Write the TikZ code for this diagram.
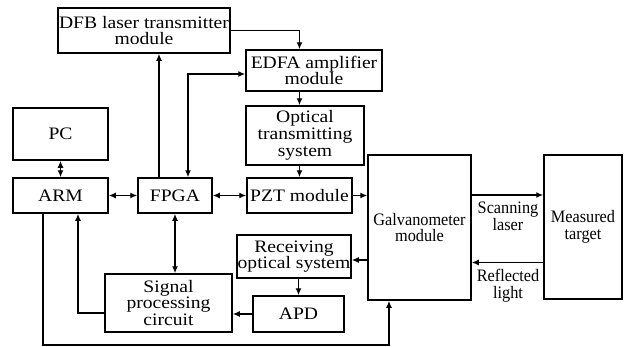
\documentclass[tikz,border=0pt]{standalone}
\usepackage{fontspec}
\setmainfont{Liberation Serif}[FakeStretch=1.12]
\newfontfamily\condfont{Liberation Serif}[FakeStretch=0.93]
\usetikzlibrary{arrows.meta}
\begin{document}
\begin{tikzpicture}[x=1pt,y=-1pt,
  box/.style={draw,line width=1.5pt,inner sep=0pt,align=center,
    font=\fontsize{17.5}{16.7}\selectfont},
  cbox/.style={box,font=\condfont\fontsize{17.5}{16.7}\selectfont},
  lbl/.style={align=center,inner sep=0pt,font=\condfont\fontsize{17.5}{16.7}\selectfont},
  arr/.style={line width=1.4pt,-{Latex[length=7pt,width=6pt]}},
  dbl/.style={line width=1.4pt,{Latex[length=7pt,width=6pt]}-{Latex[length=7pt,width=6pt]}}]
\useasboundingbox (0,0) rectangle (626,346);
\node[box,minimum width=172pt,minimum height=45pt] (dfb) at (144,30.5) {DFB laser transmitter\\module};
\node[box,minimum width=136pt,minimum height=41pt] (edfa) at (314,70.5) {EDFA amplifier\\module};
\node[box,minimum width=118pt,minimum height=59pt] (opt) at (305,135.5) {Optical\\transmitting\\system};
\node[box,minimum width=95pt,minimum height=52pt] (pc) at (60.5,134) {PC};
\node[box,minimum width=95pt,minimum height=35pt] (arm) at (60.5,195.5) {ARM};
\node[box,minimum width=74pt,minimum height=35pt] (fpga) at (175,195.5) {FPGA};
\node[box,minimum width=105pt,minimum height=35pt] (pzt) at (299.5,195.5) {PZT module};
\node[cbox,minimum width=103pt,minimum height=145pt] (galvo) at (419.5,227.5) {Galvanometer\\module};
\node[cbox,minimum width=78pt,minimum height=144pt] (target) at (583,227) {Measured\\target};
\node[box,minimum width=114pt,minimum height=43pt] (recv) at (294,256.5) {Receiving\\optical system};
\node[box,minimum width=127pt,minimum height=58pt] (sig) at (168.5,303) {Signal\\processing\\circuit};
\node[box,minimum width=91pt,minimum height=36pt] (apd) at (298.5,314) {APD};
\node[lbl] (scan) at (508,216) {Scanning\\laser};
\node[lbl] (refl) at (508,286) {Reflected\\light};
\coordinate (b) at (389,345);
% connectors
\draw[arr] (dfb.east) -| (edfa.north -| pzt.north);
\draw[arr] ([xshift=-16pt]fpga.north) -- ([xshift=-16pt]fpga.north |- dfb.south);
\draw[dbl] ([xshift=13pt]fpga.north) |- ([yshift=-3.5pt]edfa.west);
\draw[arr] (edfa.south -| pzt.north) -- (opt.north -| pzt.north);
\draw[arr] (opt.south -| pzt.north) -- (pzt.north);
\draw[dbl] (pc.south) -- (arm.north);
\draw[dbl] (arm.east) -- (fpga.west);
\draw[dbl] (fpga.east) -- (pzt.west);
\draw[arr] (pzt.east) -- (galvo.west |- pzt.east);
\draw[arr] ([yshift=-3.5pt]galvo.west |- recv.east) -- ([yshift=-3.5pt]recv.east);
\draw[arr] (recv.south -| apd.north) -- (apd.north);
\draw[arr] (apd.west) -- (sig.east |- apd.west);
\draw[arr] ([yshift=-10pt]sig.west) -| ([xshift=17.5pt]arm.south);
\draw[dbl] (fpga.south) -- (fpga.south |- sig.north);
\draw[arr] ([yshift=32.5pt]galvo.east) -- ([yshift=32.5pt]galvo.east -| target.west);
\draw[arr] ([yshift=-35.5pt]target.west) -- ([yshift=-35.5pt]target.west -| galvo.east);
\draw[arr] ([xshift=-17.5pt]arm.south) |- (b) -- (b |- galvo.south);
\end{tikzpicture}
\end{document}
